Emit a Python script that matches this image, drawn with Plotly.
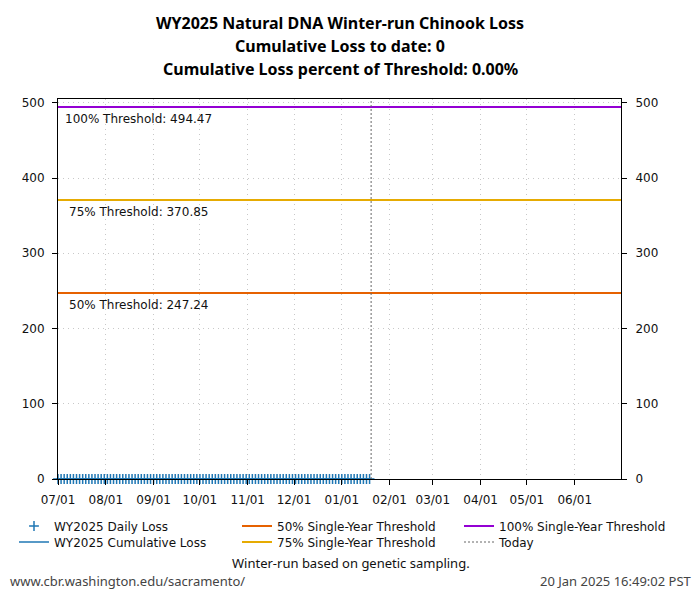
import pandas as pd
import plotly.graph_objects as go

# ---- data ----
dates = pd.date_range("2024-07-01", "2025-01-19", freq="2D")
daily_loss = [0] * len(dates)
cumulative_loss = [0] * len(dates)
threshold_names = ["50% Single-Year Threshold", "75% Single-Year Threshold", "100% Single-Year Threshold"]
threshold_labels = ["50% Threshold: 247.24", "75% Threshold: 370.85", "100% Threshold: 494.47"]
threshold_values = [247.24, 370.85, 494.47]
threshold_colors = ["#E66100", "#E6AB02", "#9400D3"]
x_range = ["2024-07-01", "2025-07-01"]
month_ticks = pd.date_range("2024-07-01", "2025-06-01", freq="MS")
month_labels = [d.strftime("%m/%d") for d in month_ticks]
today = "2025-01-20"
title_lines = [
    "WY2025 Natural DNA Winter-run Chinook Loss",
    "Cumulative Loss to date: 0",
    "Cumulative Loss percent of Threshold: 0.00%",
]

# page offset (browser body margin)
OFF = 8
W, H = 700 - OFF, 600 - OFF
ML, MR, MT, MB = 58 - OFF, 79, 99 - OFF, 121
PW, PH = W - ML - MR, H - MT - MB


def px_x(page_x):
    return (page_x - OFF - ML) / PW


def px_y(page_y):
    return (H - MB - (page_y - OFF)) / PH


TICKFONT = dict(family="DejaVu Sans", size=12, color="#111")
BLUE = "#1f77b4"

fig = go.Figure()

fig.add_trace(go.Scatter(
    x=dates, y=daily_loss, mode="markers", name="WY2025 Daily Loss", cliponaxis=False,
    marker=dict(symbol="cross-thin", size=7, line=dict(color=BLUE, width=1.5), color=BLUE),
    legend="legend",
))
fig.add_trace(go.Scatter(
    x=dates, y=cumulative_loss, mode="lines", name="WY2025 Cumulative Loss", cliponaxis=False,
    line=dict(color=BLUE, width=1.5), legend="legend2",
))
for name, val, col, lg in zip(threshold_names, threshold_values, threshold_colors,
                              ["legend3", "legend4", "legend5"]):
    fig.add_trace(go.Scatter(
        x=x_range, y=[val, val], mode="lines", name=name,
        line=dict(color=col, width=2), legend=lg,
    ))

# invisible trace for right axis
fig.add_trace(go.Scatter(x=[dates[0]], y=[0], yaxis="y2", mode="markers",
                         marker=dict(opacity=0), showlegend=False, hoverinfo="skip"))

# today line
fig.add_shape(type="line", x0=today, x1=today, xref="x", y0=0, y1=1, yref="y domain",
              line=dict(color="#666", width=1, dash="2px,2px"), showlegend=True, name="Today",
              legend="legend6")

# threshold annotations
for lab, val, xs in zip(threshold_labels, threshold_values, [9, 9, 5]):
    fig.add_annotation(x=0, xref="x domain", y=val, yref="y", text=lab, showarrow=False,
                       xanchor="left", yanchor="top", xshift=xs, yshift=-3,
                       font=dict(family="DejaVu Sans", size=12, color="#111"))

# titles
for t, yy in zip(title_lines, [23, 46, 69]):
    fig.add_annotation(x=px_x(340), xref="paper", y=px_y(yy), yref="paper", text="<b>" + t + "</b>",
                       showarrow=False, xanchor="center", yanchor="middle",
                       font=dict(family="Noto Sans", size=16, color="#000"))

fig.add_annotation(x=px_x(351), xref="paper", y=px_y(563), yref="paper",
                   text="Winter-run based on genetic sampling.", showarrow=False,
                   xanchor="center", yanchor="middle", font=dict(family="Noto Sans", size=13, color="#111"))
fig.add_annotation(x=px_x(8), xref="paper", y=px_y(581), yref="paper",
                   text="www.cbr.washington.edu/sacramento/", showarrow=False,
                   xanchor="left", yanchor="middle", font=dict(family="Noto Sans", size=13, color="#444"))
fig.add_annotation(x=px_x(694), xref="paper", y=px_y(581), yref="paper",
                   text="20 Jan 2025 16:49:02 PST", showarrow=False,
                   xanchor="right", yanchor="middle", font=dict(family="Noto Sans", size=13, color="#444"))

legend_common = dict(orientation="v", xanchor="left", yanchor="middle",
                     font=dict(family="DejaVu Sans", size=12, color="#111"),
                     bgcolor="rgba(0,0,0,0)", itemwidth=30)
col_x = [14, 237, 459]
row_y = [526, 542]
legend_pos = {
    "legend": (col_x[0], row_y[0]), "legend2": (col_x[0], row_y[1]),
    "legend3": (col_x[1], row_y[0]), "legend4": (col_x[1], row_y[1]),
    "legend5": (col_x[2], row_y[0]), "legend6": (col_x[2], row_y[1]),
}
legends = {k: dict(x=px_x(cx), y=px_y(cy), **legend_common) for k, (cx, cy) in legend_pos.items()}

GRID = dict(showgrid=True, gridcolor="#c8c8c8", griddash="1px,4px", gridwidth=1, zeroline=False)

fig.update_layout(
    width=W, height=H,
    margin=dict(l=ML, r=MR, t=MT, b=MB, autoexpand=False),
    paper_bgcolor="white", plot_bgcolor="white",
    showlegend=True,
    **legends,
    xaxis=dict(
        type="date", range=x_range, tickmode="array", tickvals=month_ticks, ticktext=month_labels,
        showline=True, linecolor="black", linewidth=1, mirror=True, automargin=False,
        ticks="outside", ticklen=5, tickcolor="black", tickfont=TICKFONT, ticklabelstandoff=5,
        **GRID,
    ),
    yaxis=dict(
        range=[0, 505], tick0=0, dtick=100, automargin=False,
        showline=True, linecolor="black", linewidth=1, mirror=True,
        ticks="outside", ticklen=5, tickcolor="black", tickfont=TICKFONT, ticklabelstandoff=5,
        **GRID,
    ),
    yaxis2=dict(
        range=[0, 505], tick0=0, dtick=100, overlaying="y", side="right", automargin=False,
        showline=False, ticks="outside", ticklen=5, tickcolor="black", tickfont=TICKFONT,
        ticklabelstandoff=6, showgrid=False, zeroline=False,
    ),
)

fig.write_html("out.html")
